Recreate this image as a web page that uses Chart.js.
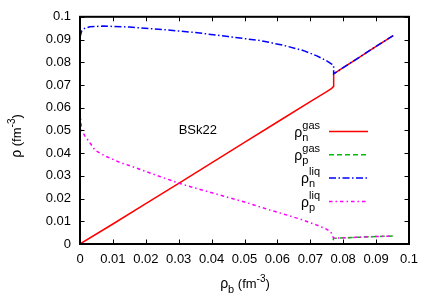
<!DOCTYPE html>
<html>
<head>
<meta charset="utf-8">
<script src="https://cdn.jsdelivr.net/npm/chart.js@4.4.1/dist/chart.umd.min.js"></script>
<style>
  html, body { margin: 0; padding: 0; background: #fff; }
  canvas { display: block; }
</style>
</head>
<body>
<canvas id="chart" width="436" height="305"></canvas>
<script>
// values (rho_b in fm^-3)
const xNGas = [0, 0.01, 0.02, 0.03, 0.04, 0.05, 0.06, 0.07, 0.073, 0.075, 0.0765, 0.0771, 0.0771, 0.080, 0.085, 0.090, 0.0952];
const yNGas = [0, 0.0088, 0.0178, 0.0267, 0.0357, 0.0447, 0.0537, 0.0627, 0.0653, 0.0671, 0.0685, 0.0694, 0.0749, 0.0776, 0.0823, 0.0870, 0.0917];

const xPGas = [0, 0.0766, 0.0771, 0.080, 0.085, 0.090, 0.0952];
const yPGas = [0, 0, 0.0025, 0.0027, 0.0030, 0.0033, 0.0035];

const xNLiq = [0, 0.0005, 0.0015, 0.003, 0.007, 0.015, 0.025, 0.035, 0.045, 0.055, 0.062, 0.068, 0.072, 0.075, 0.0765, 0.0771, 0.0771, 0.080, 0.085, 0.090, 0.0952];
const yNLiq = [0.091, 0.0937, 0.0950, 0.0956, 0.0959, 0.0955, 0.0944, 0.0931, 0.0913, 0.0895, 0.0874, 0.0851, 0.0828, 0.0806, 0.0792, 0.0785, 0.0749, 0.0776, 0.0823, 0.0870, 0.0917];

const xPLiq = [0, 0.0005, 0.0015, 0.0025, 0.0046, 0.008, 0.012, 0.0162, 0.0235, 0.0304, 0.0365, 0.0426, 0.050, 0.0578, 0.063, 0.0679, 0.072, 0.0745, 0.0762, 0.0771, 0.080, 0.085, 0.090, 0.0952];
const yPLiq = [0.058, 0.050, 0.0475, 0.0456, 0.0412, 0.0385, 0.0360, 0.0339, 0.0301, 0.0266, 0.0240, 0.0215, 0.0185, 0.0149, 0.0127, 0.0105, 0.0083, 0.0068, 0.0054, 0.0025, 0.0027, 0.0030, 0.0033, 0.0035];

const seriesSub = ['n', 'p', 'n', 'p'];
const seriesSup = ['gas', 'gas', 'liq', 'liq'];
const seriesColors = ['#ff0000', '#00c000', '#0000ff', '#ff00ff'];
const seriesDash = [[], [5, 3], [7, 2.5, 1.5, 2.5], [3.5, 3, 1.5, 3]];

const modelLabel = 'BSk22';
const modelLabelAt = [0.03, 0.05];

const FONT = '"Liberation Sans", Arial, Helvetica, sans-serif';

const toPoints = (xs, ys) => xs.map((x, i) => ({ x: x, y: ys[i] }));
const fmtTick = v => String(Number(v.toFixed(2)));

function makeSet(i, xs, ys) {
    return {
        label: seriesSub[i] + ' ' + seriesSup[i],
        data: toPoints(xs, ys),
        showLine: true,
        borderColor: seriesColors[i],
        backgroundColor: seriesColors[i],
        borderWidth: 1.5,
        borderDash: seriesDash[i],
        pointRadius: 0,
        tension: 0,
        clip: 0,
        order: 4 - i
    };
}

function drawRich(ctx, parts, x, y) {
    let cx = x;
    parts.forEach(p => {
        ctx.font = p.size + 'px ' + FONT;
        ctx.fillText(p.t, cx, y + (p.dy || 0));
        cx += ctx.measureText(p.t).width;
    });
}
function richWidth(ctx, parts) {
    let w = 0;
    parts.forEach(p => {
        ctx.font = p.size + 'px ' + FONT;
        w += ctx.measureText(p.t).width;
    });
    return w;
}

const gnuplotFrame = {
    id: 'gnuplotFrame',
    afterDatasetsDraw(chart) {
        const ctx = chart.ctx;
        const { left, right, top, bottom } = chart.chartArea;
        const xs = chart.scales.x, ys = chart.scales.y;
        ctx.save();
        ctx.strokeStyle = '#000';
        ctx.lineWidth = 2;
        ctx.setLineDash([]);
        ctx.strokeRect(left, top, right - left, bottom - top);
        ctx.lineWidth = 1;
        ctx.beginPath();
        xs.ticks.forEach(t => {
            const px = Math.round(xs.getPixelForValue(t.value)) + 0.5;
            ctx.moveTo(px, bottom); ctx.lineTo(px, bottom - 4.5);
            ctx.moveTo(px, top); ctx.lineTo(px, top + 4.5);
        });
        ys.ticks.forEach(t => {
            const py = Math.round(ys.getPixelForValue(t.value)) + 0.5;
            ctx.moveTo(left, py); ctx.lineTo(left + 4.5, py);
            ctx.moveTo(right, py); ctx.lineTo(right - 4.5, py);
        });
        ctx.stroke();

        // model label
        ctx.fillStyle = '#000';
        ctx.textBaseline = 'middle';
        ctx.textAlign = 'left';
        ctx.font = '13px ' + FONT;
        ctx.fillText(modelLabel, xs.getPixelForValue(modelLabelAt[0]), ys.getPixelForValue(modelLabelAt[1]));

        // key
        ctx.textBaseline = 'alphabetic';
        const textRight = right - 89;
        for (let i = 0; i < 4; i++) {
            const ly = top + 114.7 + i * 23.3;
            ctx.strokeStyle = seriesColors[i];
            ctx.lineWidth = 1.5;
            ctx.setLineDash(seriesDash[i]);
            ctx.beginPath();
            ctx.moveTo(right - 80, ly);
            ctx.lineTo(right - 41, ly);
            ctx.stroke();
            ctx.setLineDash([]);

            ctx.font = '11px ' + FONT;
            const wSup = ctx.measureText(seriesSup[i]).width;
            const wSub = ctx.measureText(seriesSub[i]).width;
            const w = Math.max(wSup, wSub);
            ctx.font = '14px ' + FONT;
            const wRho = ctx.measureText('ρ').width;
            const x0 = textRight - w - wRho;
            ctx.fillText('ρ', x0, ly + 5.3);
            ctx.font = '11px ' + FONT;
            ctx.fillText(seriesSup[i], x0 + wRho, ly - 2.7);
            ctx.fillText(seriesSub[i], x0 + wRho, ly + 9.3);
        }

        // x axis title
        const xTitle = [
            { t: 'ρ', size: 14 }, { t: 'b', size: 11, dy: 5 },
            { t: ' (fm', size: 13 }, { t: '-3', size: 10, dy: -6 }, { t: ')', size: 13 }
        ];
        const wx = richWidth(ctx, xTitle);
        drawRich(ctx, xTitle, (left + right) / 2 + 0.5 - wx / 2, 288);

        // y axis title
        const yTitle = [
            { t: 'ρ', size: 14 }, { t: ' (fm', size: 13 },
            { t: '-3', size: 10, dy: -6 }, { t: ')', size: 13 }
        ];
        const wy = richWidth(ctx, yTitle);
        ctx.translate(21, 136);
        ctx.rotate(-Math.PI / 2);
        drawRich(ctx, yTitle, -wy / 2, 0);
        ctx.restore();
    }
};

const tickFont = { family: FONT, size: 13 };

new Chart(document.getElementById('chart'), {
    type: 'scatter',
    data: {
        datasets: [
            makeSet(0, xNGas, yNGas),
            makeSet(1, xPGas, yPGas),
            makeSet(2, xNLiq, yNLiq),
            makeSet(3, xPLiq, yPLiq)
        ]
    },
    options: {
        responsive: false,
        animation: false,
        devicePixelRatio: 1,
        layout: { padding: { top: 16, right: 27, left: 0, bottom: 0 } },
        plugins: { legend: { display: false }, tooltip: { enabled: false } },
        scales: {
            x: {
                type: 'linear', min: 0, max: 0.1,
                ticks: { stepSize: 0.01, padding: 7.5, color: '#000', font: tickFont, callback: fmtTick, maxRotation: 0, autoSkip: false },
                grid: { display: false, drawTicks: false, tickLength: 0 },
                border: { display: false },
                afterFit: s => { s.height = 61; }
            },
            y: {
                type: 'linear', min: 0, max: 0.1,
                ticks: { stepSize: 0.01, padding: 9, color: '#000', font: tickFont, callback: fmtTick, autoSkip: false },
                grid: { display: false, drawTicks: false, tickLength: 0 },
                border: { display: false },
                afterFit: s => { s.width = 80; }
            }
        }
    },
    plugins: [gnuplotFrame]
});
</script>
</body>
</html>
